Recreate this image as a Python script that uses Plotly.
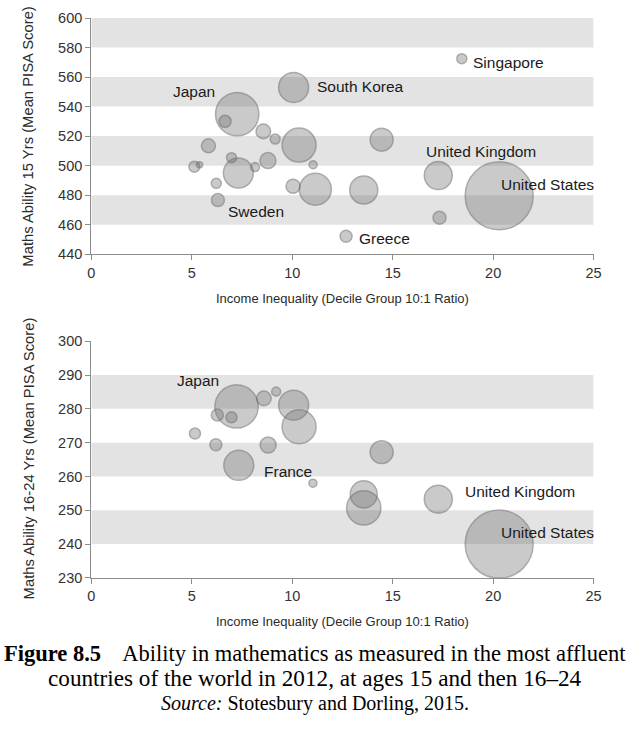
import plotly.graph_objects as go

# ---------------- data ----------------
# Top panel: age 15
x15 = [7.26, 6.66, 8.56, 9.15, 5.83, 10.07, 10.34, 5.13, 5.39, 6.98, 7.32, 8.15, 8.79,
       6.22, 6.30, 11.04, 10.04, 11.15, 13.56, 14.45, 17.27, 17.33, 20.30, 18.44, 12.68]
y15 = [534.9, 530.0, 523.2, 518.0, 513.4, 553.0, 513.9, 499.3, 500.6, 505.4, 495.0, 499.0, 503.4,
       488.0, 476.7, 500.6, 486.0, 484.0, 483.5, 517.6, 493.3, 464.7, 479.6, 572.5, 452.1]
pop15 = [128, 9.8, 14.6, 6.8, 13.4, 61.5, 79, 8.3, 2.5, 6.8, 61.5, 5.5, 17.5,
         6.8, 11.5, 4.4, 13.4, 70, 53.6, 36, 53.6, 11.5, 316, 6.8, 9.8]

# Bottom panel: ages 16-24
x1624 = [7.23, 6.27, 6.98, 8.59, 9.20, 10.07, 10.34, 5.16, 6.20, 8.80, 7.34, 11.03,
         14.45, 13.56, 13.56, 17.27, 20.30]
y1624 = [280.7, 278.2, 277.5, 283.1, 285.1, 281.1, 274.7, 272.7, 269.4, 269.3, 263.3, 258.0,
         267.2, 254.7, 250.7, 253.3, 240.0]
pop1624 = [128, 9.8, 8.3, 14.6, 5.5, 61.5, 79, 8.3, 9.8, 17.5, 61.5, 4.4,
           36, 50, 80, 53.6, 316]

labels15 = ["Japan", "South Korea", "Singapore", "United Kingdom", "United States", "Sweden", "Greece"]
lab15_x = [5.1, 11.13, 18.9, 16.55, 20.3, 6.72, 13.2]
lab15_y = [550.5, 553.5, 569.8, 509.3, 487.2, 469.2, 450.8]
lab15_anchor = ["center", "left", "left", "left", "left", "left", "left"]

labels1624 = ["Japan", "France", "United Kingdom", "United States"]
lab1624_x = [5.32, 8.48, 18.5, 20.3]
lab1624_y = [288.4, 261.6, 255.5, 243.4]
lab1624_anchor = ["center", "left", "left", "left"]

xticks = [0, 5, 10, 15, 20, 25]
yticks15 = [440, 460, 480, 500, 520, 540, 560, 580, 600]
yticks1624 = [230, 240, 250, 260, 270, 280, 290, 300]

x_title = "Income Inequality (Decile Group 10:1 Ratio)"
y_title15 = "Maths Ability 15 Yrs (Mean PISA Score)"
y_title1624 = "Maths Ability 16-24 Yrs (Mean PISA Score)"

caption1 = "<b>Figure 8.5</b>&nbsp;&nbsp;&nbsp; Ability in mathematics as measured in the most affluent"
caption2 = "countries of the world in 2012, at ages 15 and then 16–24"
caption3 = "<i>Source:</i> Stotesbury and Dorling, 2015."

# ---------------- figure ----------------
W, H = 633, 729
fig = go.Figure()

max_pop = max(pop15 + pop1624)
sizeref = max_pop / (2 * 34 ** 2)

marker_style = dict(color="rgba(105,105,105,0.5)", sizemode="area", sizeref=sizeref,
                    line=dict(color="rgba(100,100,100,0.7)", width=1.5))

fig.add_trace(go.Scatter(x=x15, y=y15, mode="markers", xaxis="x", yaxis="y",
                         marker=dict(size=pop15, **marker_style), hoverinfo="skip", showlegend=False))
fig.add_trace(go.Scatter(x=x1624, y=y1624, mode="markers", xaxis="x2", yaxis="y2",
                         marker=dict(size=pop1624, **marker_style), hoverinfo="skip", showlegend=False))

# bands
shapes = []
for ticks, xr, yr in [(yticks15, "x", "y"), (yticks1624, "x2", "y2")]:
    for i in range(1, len(ticks) - 1, 2):
        shapes.append(dict(type="rect", xref=xr, yref=yr, x0=xticks[0], x1=xticks[-1],
                           y0=ticks[i], y1=ticks[i + 1], fillcolor="#e3e3e3",
                           line=dict(width=0), layer="below"))

lab_font = dict(family="Liberation Sans, Arial, sans-serif", size=15.5, color="#1a1a1a")
annotations = []
for txt, lx, ly, anc in zip(labels15, lab15_x, lab15_y, lab15_anchor):
    annotations.append(dict(text=txt, x=lx, y=ly, xref="x", yref="y", showarrow=False,
                            xanchor=anc, yanchor="middle", font=lab_font))
for txt, lx, ly, anc in zip(labels1624, lab1624_x, lab1624_y, lab1624_anchor):
    annotations.append(dict(text=txt, x=lx, y=ly, xref="x2", yref="y2", showarrow=False,
                            xanchor=anc, yanchor="middle", font=lab_font))

xt_font = dict(family="Liberation Sans, Arial, sans-serif", size=13, color="#2a2a2a")
yt_font = dict(family="Liberation Sans, Arial, sans-serif", size=14.8, color="#2a2a2a")
for yy in [297, 627]:
    annotations.append(dict(text=x_title, x=(89 + 601) / 2 / W, y=1 - yy / H, xref="paper", yref="paper",
                            showarrow=False, xanchor="center", yanchor="middle", font=xt_font))
annotations.append(dict(text=y_title15, x=25 / W, y=1 - 132 / H, xref="paper", yref="paper",
                        showarrow=False, textangle=-90, xanchor="center", yanchor="middle", font=yt_font))
annotations.append(dict(text=y_title1624, x=25 / W, y=1 - 461 / H, xref="paper", yref="paper",
                        showarrow=False, textangle=-90, xanchor="center", yanchor="middle", font=yt_font))

cap_font = dict(family="Liberation Serif, Times New Roman, serif", size=22.5, color="#000000")
annotations.append(dict(text=caption1, x=0.5, y=1 - 660 / H, xref="paper", yref="paper", showarrow=False,
                        xanchor="center", yanchor="middle", font=cap_font))
annotations.append(dict(text=caption2, x=0.5, y=1 - 685 / H, xref="paper", yref="paper", showarrow=False,
                        xanchor="center", yanchor="middle", font=dict(cap_font, size=23.2)))
annotations.append(dict(text=caption3, x=0.5, y=1 - 711 / H, xref="paper", yref="paper", showarrow=False,
                        xanchor="center", yanchor="middle", font=dict(cap_font, size=20)))

tick_font = dict(family="Liberation Sans, Arial, sans-serif", size=14.5, color="#333333")
axis_common = dict(showgrid=False, zeroline=False, showline=True, linecolor="#8c8c8c", linewidth=1.2,
                   ticks="outside", ticklen=5, tickcolor="#8c8c8c", tickwidth=1.2, tickfont=tick_font)

xdom = [89 / W, 601 / W]
fig.update_layout(
    width=W, height=H, margin=dict(l=0, r=0, t=0, b=0),
    paper_bgcolor="white", plot_bgcolor="white",
    xaxis=dict(domain=xdom, range=[xticks[0], xticks[-1]], tickvals=xticks, anchor="y", **axis_common),
    yaxis=dict(domain=[1 - 251.7 / H, 1 - 10.3 / H], range=[yticks15[0], yticks15[-1]],
               tickvals=yticks15, anchor="x", **axis_common),
    xaxis2=dict(domain=xdom, range=[xticks[0], xticks[-1]], tickvals=xticks, anchor="y2", **axis_common),
    yaxis2=dict(domain=[1 - 582.7 / H, 1 - 340.7 / H], range=[yticks1624[0], yticks1624[-1]],
                tickvals=yticks1624, anchor="x2", **axis_common),
    shapes=shapes, annotations=annotations,
)

fig.write_html("out.html", config={"displayModeBar": False},
               post_script="document.body.style.margin='0px';")
